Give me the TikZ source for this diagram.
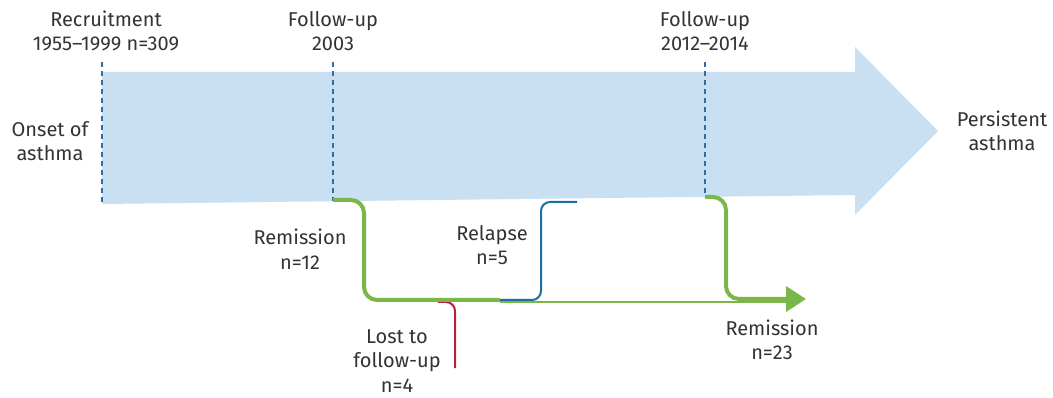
\documentclass[tikz,border=0pt]{standalone}
\usepackage{fontspec}
\setmainfont{Fira Sans}
\usetikzlibrary{arrows.meta}
\definecolor{arrowfill}{HTML}{C9DFF2}
\definecolor{dashblue}{HTML}{2F6EA8}
\definecolor{lgreen}{HTML}{7AB648}
\definecolor{lblue}{HTML}{1B6EA1}
\definecolor{lred}{HTML}{B22234}
\definecolor{txt}{HTML}{333333}
\tikzset{
  lbl/.style={align=center, inner sep=0pt, text=txt, font=\fontsize{20}{24.5}\selectfont},
  tick/.style={draw=dashblue, line width=1.3pt, dash pattern=on 5pt off 4pt},
  greenthick/.style={draw=lgreen, line width=4pt, rounded corners=13pt},
  greenthin/.style={draw=lgreen, line width=2pt},
  bluepath/.style={draw=lblue, line width=2pt, rounded corners=9pt},
  redpath/.style={draw=lred, line width=2pt, rounded corners=9pt}
}
\begin{document}
\begin{tikzpicture}[x=1pt,y=-1pt]
\useasboundingbox (0,0) rectangle (1053,398);
% big arrow
\fill[arrowfill] (102,72) -- (855,72) -- (855,47) -- (938,131) -- (855,215) -- (855,195) -- (102,204) -- cycle;
% dashed ticks
\coordinate (t1a) at (102,62); \coordinate (t1b) at (102,204);
\coordinate (t2a) at (333,62); \coordinate (t2b) at (333,201);
\coordinate (t3a) at (705,62); \coordinate (t3b) at (705,197);
\draw[tick] (t1a) -- (t1b);
\draw[tick] (t2a) -- (t2b);
\draw[tick] (t3a) -- (t3b);
% labels
\node[lbl] (recruit) at (106,31) {Recruitment\\1955–1999 n=309};
\node[lbl] (fu2003) at (333,31) {Follow-up\\2003};
\node[lbl] (fu2012) at (705,31) {Follow-up\\2012–2014};
\node[lbl] (onset) at (50,141) {Onset of\\asthma};
\node[lbl] (persist) at (1002,131) {Persistent\\asthma};
\node[lbl] (rem12) at (300,249) {Remission\\n=12};
\node[lbl] (relapse) at (492,245) {Relapse\\n=5};
\node[lbl] (lost) at (397,361) {Lost to\\follow-up\\n=4};
\node[lbl] (rem23) at (772,340) {Remission\\n=23};
% connector points
\coordinate (r0) at (438,302);
\coordinate (r1) at (455,302);
\coordinate (r2) at (455,368);
\coordinate (g0) at (333,200);
\coordinate (g1) at (364,200);
\coordinate (g2) at (364,300);
\coordinate (g3) at (500,300);
\coordinate (gt0) at (500,302);
\coordinate (gt1) at (790,302);
\coordinate (h0) at (705,197);
\coordinate (h1) at (726,197);
\coordinate (h2) at (726,299);
\coordinate (h3) at (806,299);
\coordinate (b0) at (577,202);
\coordinate (b1) at (541,202);
\coordinate (b2) at (541,300);
\coordinate (b3) at (500,300);
% connectors
\draw[redpath] (r0) -- (r1) -- (r2);
\draw[greenthin] (gt0) -- (gt1);
\draw[greenthick] (g0) -- (g1) -- (g2) -- (g3);
\draw[greenthick, -{Triangle[length=20pt,width=25pt]}] (h0) -- (h1) -- (h2) -- (h3);
\draw[bluepath] (b0) -- (b1) -- (b2) -- (b3);
\end{tikzpicture}
\end{document}
